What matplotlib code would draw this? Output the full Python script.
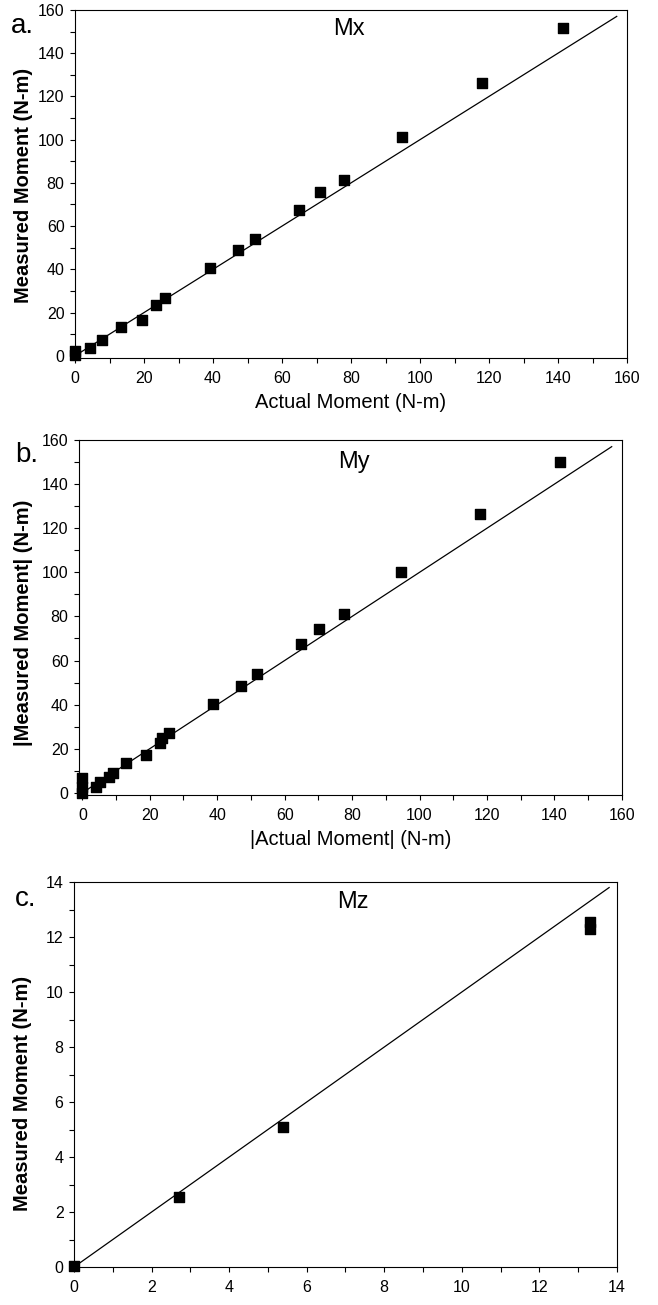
import matplotlib
matplotlib.use("Agg")
import matplotlib.pyplot as plt
from matplotlib.ticker import MultipleLocator

plt.rcParams['font.family'] = ['Liberation Sans', 'DejaVu Sans']

# Panel a: Mx
mx_actual = [0, 0, 4.2, 7.9, 13.3, 19.3, 23.6, 26.0, 39.0, 47.3, 52.3, 64.9, 70.9, 77.9, 94.8, 118.0, 141.3]
mx_measured = [0.3, 2.0, 3.5, 7.4, 13.3, 16.6, 23.3, 26.7, 40.5, 49.0, 53.9, 67.5, 76.0, 81.4, 101.0, 126.0, 151.8]

# Panel b: My
my_actual = [0, 0, 0, 4.2, 5.2, 7.9, 9.1, 12.9, 19.0, 22.9, 23.5, 25.6, 38.8, 47.2, 51.9, 64.8, 70.3, 77.7, 94.4, 118.0, 141.8]
my_measured = [0, 2.7, 6.5, 2.7, 5.0, 7.3, 9.1, 13.3, 17.1, 22.4, 25.0, 26.9, 40.2, 48.6, 53.7, 67.5, 74.1, 81.1, 100.3, 126.5, 150.2]

# Panel c: Mz
mz_actual = [0.0, 2.72, 5.4, 13.3, 13.3]
mz_measured = [0.02, 2.55, 5.1, 12.56, 12.3]

# reference line y = x
line_ab = [0, 157]
line_c = [0.1, 13.8]

fig = plt.figure(figsize=(6.58, 13.05), dpi=100)

axes_pos = [
    [0.114, 0.7257, 0.839, 0.2667],
    [0.120, 0.3908, 0.825, 0.2720],
    [0.1125, 0.0291, 0.825, 0.2950],
]

panels = [
    dict(x=mx_actual, y=mx_measured, line=line_ab, xlim=(0, 160), ylim=(-1, 160),
         major=20, minor=10, title='Mx', tpos=(0.496, 0.945), tag='a.', tagpos=(-0.096, 0.954),
         ylpos=(-0.094, 0.497),
         xlabel='Actual Moment (N-m)', ylabel='Measured Moment (N-m)'),
    dict(x=my_actual, y=my_measured, line=line_ab, xlim=(-1, 160), ylim=(-1, 160),
         major=20, minor=10, title='My', tpos=(0.507, 0.938), tag='b.', tagpos=(-0.096, 0.958),
         ylpos=(-0.103, 0.485),
         xlabel='|Actual Moment| (N-m)', ylabel='|Measured Moment| (N-m)'),
    dict(x=mz_actual, y=mz_measured, line=line_c, xlim=(0, 14), ylim=(0, 14),
         major=2, minor=1, title='Mz', tpos=(0.514, 0.948), tag='c.', tagpos=(-0.089, 0.956),
         ylpos=(-0.094, 0.45),
         xlabel=None, ylabel='Measured Moment (N-m)'),
]

for pos, p in zip(axes_pos, panels):
    ax = fig.add_axes(pos)
    ax.plot(p['line'], p['line'], color='black', lw=0.9)
    ax.scatter(p['x'], p['y'], marker='s', s=60, color='black', zorder=3, clip_on=False)
    ax.set_xlim(*p['xlim'])
    ax.set_ylim(*p['ylim'])
    ax.xaxis.set_major_locator(MultipleLocator(p['major']))
    ax.xaxis.set_minor_locator(MultipleLocator(p['minor']))
    ax.yaxis.set_major_locator(MultipleLocator(p['major']))
    ax.yaxis.set_minor_locator(MultipleLocator(p['minor']))
    ax.tick_params(which='both', direction='out', length=3.5, width=0.8, labelsize=11.5)
    ax.tick_params(axis='x', pad=6)
    ax.tick_params(axis='y', pad=4)
    for s in ax.spines.values():
        s.set_linewidth(0.8)
    if p['xlabel']:
        ax.set_xlabel(p['xlabel'], fontsize=14.5, labelpad=5)
    ax.set_ylabel(p['ylabel'], fontsize=14.5, fontweight='bold')
    ax.yaxis.label.set_verticalalignment('center')
    ax.yaxis.set_label_coords(*p['ylpos'])
    ax.text(*p['tpos'], p['title'], transform=ax.transAxes, ha='center', va='center', fontsize=17)
    ax.text(*p['tagpos'], p['tag'], transform=ax.transAxes, ha='center', va='center', fontsize=20)

fig.savefig('out.png', dpi=100)
